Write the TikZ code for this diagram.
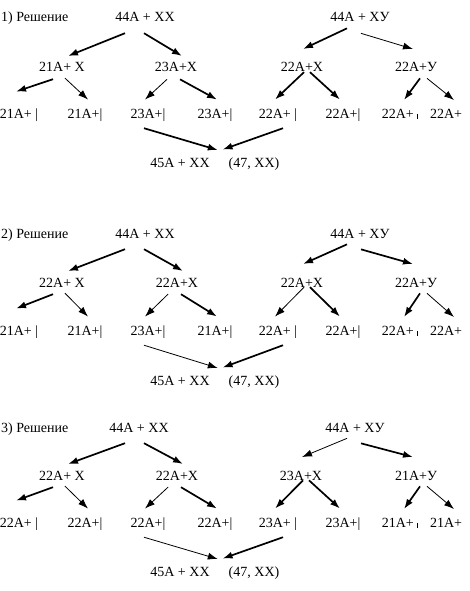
\documentclass[tikz,border=0pt]{standalone}
\usepackage{fontspec}
\setmainfont{Liberation Serif}
\usetikzlibrary{arrows.meta}

\begin{document}
\begin{tikzpicture}[x=1pt, y=-1pt,
      lbl/.style={font=\fontsize{14}{16}\selectfont, inner sep=2pt, anchor=base},
      ttl/.style={lbl, anchor=base west},
      arr/.style={line width=0.8pt, -{Latex[length=10pt,width=7pt]}},
      arrb/.style={arr, line width=1.7pt}
   ]
      \useasboundingbox (0,0) rectangle (469,591);

      % ---------- 1) ----------
      \node (s1ttl) [ttl]  at (-1,22)  {1) Решение};
      \node (s1t)   [lbl]  at (145,22) {44A + XX};
      \node (s1u)   [lbl]  at (360,22) {44A + XУ};
      \node (s1m1)  [lbl]  at (62,72)  {21A+ X};
      \node (s1m2)  [lbl]  at (176,72) {23A+X};
      \node (s1m3)  [lbl]  at (302,72) {22A+X};
      \node (s1m4)  [lbl]  at (416,72) {22A+У};
      \node (s1b1)  [lbl]  at (19,118)  {21A+ |};
      \node (s1b2)  [lbl]  at (85,118)  {21A+|};
      \node (s1b3)  [lbl]  at (148,118) {23A+|};
      \node (s1b4)  [lbl]  at (215,118) {23A+|};
      \node (s1b5)  [lbl]  at (278,118) {22A+ |};
      \node (s1b6)  [lbl]  at (343,118) {22A+|};
      \node (s1b7)  [lbl]  at (400,118) {22A+ \rule[-0.5pt]{0.8pt}{5pt}};
      \node (s1b8)  [lbl]  at (446,118) {22A+};
      \node (s1res) [lbl]  at (180,167) {45A + XX};
      \node (s1gen) [lbl]  at (254,167) {(47, XX)};

      \draw[arrb] ([shift={(-20pt,-9pt)}]s1t.south) -- ([shift={(6pt,4.5pt)}]s1m1.north);
      \draw[arrb] ([shift={(-1pt,-9pt)}]s1t.south)  -- ([shift={(6pt,4.5pt)}]s1m2.north);
      \draw[arrb] ([shift={(-9pt,-5pt)}]s1m1.south) -- ([shift={(-3pt,14.5pt)}]s1b1.north);
      \draw[arr]  ([shift={(3pt,-4pt)}]s1m1.south)  -- ([shift={(3pt,6.5pt)}]s1b2.north);
      \draw[arr]  ([shift={(-9pt,-5pt)}]s1m2.south) -- ([shift={(-3pt,6.5pt)}]s1b3.north);
      \draw[arrb] ([shift={(4pt,-5pt)}]s1m2.south)  -- ([shift={(2pt,6.5pt)}]s1b4.north);
      \draw[arrb] ([shift={(-13pt,-4pt)}]s1u.south) -- ([shift={(1pt,11.5pt)}]s1m3.north);
      \draw[arr]  ([shift={(1pt,-9pt)}]s1u.south)   -- ([shift={(-3pt,11.5pt)}]s1m4.north);
      \draw[arrb] ([shift={(2pt,2pt)}]s1m3.south)   -- ([shift={(-3pt,6.5pt)}]s1b5.north);
      \draw[arrb] ([shift={(8pt,2pt)}]s1m3.south)   -- ([shift={(-3pt,6.5pt)}]s1b6.north);
      \draw[arrb] ([shift={(4pt,-4pt)}]s1m4.south)  -- ([shift={(4pt,6.5pt)}]s1b7.north);
      \draw[arr]  ([shift={(11pt,-4pt)}]s1m4.south) -- ([shift={(8pt,6.5pt)}]s1b8.north);
      \draw[arrb] ([shift={(-4pt,-5pt)}]s1b3.south) -- ([shift={(6pt,5.5pt)}]s1res.north east);
      \draw[arrb] ([shift={(5pt,-5pt)}]s1b5.south)  -- ([shift={(-4pt,5.5pt)}]s1gen.north west);

      % ---------- 2) ----------
      \node (s2ttl) [ttl]  at (-1,238)  {2) Решение};
      \node (s2t)   [lbl]  at (145,238) {44A + XX};
      \node (s2u)   [lbl]  at (360,238) {44A + XУ};
      \node (s2m1)  [lbl]  at (62,287)  {22A+ X};
      \node (s2m2)  [lbl]  at (177,287) {22A+X};
      \node (s2m3)  [lbl]  at (302,287) {22A+X};
      \node (s2m4)  [lbl]  at (416,287) {22A+У};
      \node (s2b1)  [lbl]  at (19,335)  {21A+ |};
      \node (s2b2)  [lbl]  at (85,335)  {21A+|};
      \node (s2b3)  [lbl]  at (148,335) {23A+|};
      \node (s2b4)  [lbl]  at (215,335) {21A+|};
      \node (s2b5)  [lbl]  at (278,335) {22A+ |};
      \node (s2b6)  [lbl]  at (343,335) {22A+|};
      \node (s2b7)  [lbl]  at (400,335) {22A+ \rule[-0.5pt]{0.8pt}{5pt}};
      \node (s2b8)  [lbl]  at (446,335) {22A+};
      \node (s2res) [lbl]  at (180,385) {45A + XX};
      \node (s2gen) [lbl]  at (254,385) {(47, XX)};

      \draw[arrb] ([shift={(-20pt,-9pt)}]s2t.south) -- ([shift={(6pt,4.5pt)}]s2m1.north);
      \draw[arrb] ([shift={(-1pt,-9pt)}]s2t.south)  -- ([shift={(6pt,4.5pt)}]s2m2.north);
      \draw[arrb] ([shift={(-9pt,-5pt)}]s2m1.south) -- ([shift={(-3pt,14.5pt)}]s2b1.north);
      \draw[arr]  ([shift={(3pt,-4pt)}]s2m1.south)  -- ([shift={(3pt,6.5pt)}]s2b2.north);
      \draw[arr]  ([shift={(-9pt,-5pt)}]s2m2.south) -- ([shift={(-3pt,6.5pt)}]s2b3.north);
      \draw[arrb] ([shift={(4pt,-5pt)}]s2m2.south)  -- ([shift={(2pt,6.5pt)}]s2b4.north);
      \draw[arrb] ([shift={(-13pt,-4pt)}]s2u.south) -- ([shift={(1pt,11.5pt)}]s2m3.north);
      \draw[arrb] ([shift={(1pt,-9pt)}]s2u.south)   -- ([shift={(-3pt,11.5pt)}]s2m4.north);
      \draw[arr]  ([shift={(2pt,2pt)}]s2m3.south)   -- ([shift={(-3pt,6.5pt)}]s2b5.north);
      \draw[arrb] ([shift={(8pt,2pt)}]s2m3.south)   -- ([shift={(-3pt,6.5pt)}]s2b6.north);
      \draw[arrb] ([shift={(4pt,-4pt)}]s2m4.south)  -- ([shift={(4pt,6.5pt)}]s2b7.north);
      \draw[arr]  ([shift={(11pt,-4pt)}]s2m4.south) -- ([shift={(8pt,6.5pt)}]s2b8.north);
      \draw[arr]  ([shift={(-4pt,-5pt)}]s2b3.south) -- ([shift={(6pt,5.5pt)}]s2res.north east);
      \draw[arrb] ([shift={(5pt,-5pt)}]s2b5.south)  -- ([shift={(-4pt,5.5pt)}]s2gen.north west);

      % ---------- 3) ----------
      \node (s3ttl) [ttl]  at (-1,432)  {3) Решение};
      \node (s3t)   [lbl]  at (139,432) {44A + XX};
      \node (s3u)   [lbl]  at (355,432) {44A + XУ};
      \node (s3m1)  [lbl]  at (62,480)  {22A+ X};
      \node (s3m2)  [lbl]  at (177,480) {22A+X};
      \node (s3m3)  [lbl]  at (301,480) {23A+X};
      \node (s3m4)  [lbl]  at (416,480) {21A+У};
      \node (s3b1)  [lbl]  at (19,527)  {22A+ |};
      \node (s3b2)  [lbl]  at (85,527)  {22A+|};
      \node (s3b3)  [lbl]  at (148,527) {22A+|};
      \node (s3b4)  [lbl]  at (215,527) {22A+|};
      \node (s3b5)  [lbl]  at (278,527) {23A+ |};
      \node (s3b6)  [lbl]  at (343,527) {23A+|};
      \node (s3b7)  [lbl]  at (400,527) {21A+ \rule[-0.5pt]{0.8pt}{5pt}};
      \node (s3b8)  [lbl]  at (446,527) {21A+};
      \node (s3res) [lbl]  at (180,576) {45A + XX};
      \node (s3gen) [lbl]  at (254,576) {(47, XX)};

      \draw[arrb] ([shift={(-14pt,-9pt)}]s3t.south) -- ([shift={(6pt,4.5pt)}]s3m1.north);
      \draw[arrb] ([shift={(5pt,-9pt)}]s3t.south)   -- ([shift={(6pt,4.5pt)}]s3m2.north);
      \draw[arrb] ([shift={(-9pt,-5pt)}]s3m1.south) -- ([shift={(-3pt,14.5pt)}]s3b1.north);
      \draw[arr]  ([shift={(3pt,-4pt)}]s3m1.south)  -- ([shift={(3pt,6.5pt)}]s3b2.north);
      \draw[arr]  ([shift={(-9pt,-5pt)}]s3m2.south) -- ([shift={(-3pt,6.5pt)}]s3b3.north);
      \draw[arrb] ([shift={(4pt,-5pt)}]s3m2.south)  -- ([shift={(2pt,6.5pt)}]s3b4.north);
      \draw[arr]  ([shift={(-8pt,-4pt)}]s3u.south)  -- ([shift={(1pt,11.5pt)}]s3m3.north);
      \draw[arrb] ([shift={(6pt,-9pt)}]s3u.south)   -- ([shift={(-3pt,11.5pt)}]s3m4.north);
      \draw[arrb] ([shift={(2pt,2pt)}]s3m3.south)   -- ([shift={(-3pt,6.5pt)}]s3b5.north);
      \draw[arrb] ([shift={(8pt,2pt)}]s3m3.south)   -- ([shift={(-3pt,6.5pt)}]s3b6.north);
      \draw[arrb] ([shift={(4pt,-4pt)}]s3m4.south)  -- ([shift={(4pt,6.5pt)}]s3b7.north);
      \draw[arr]  ([shift={(11pt,-4pt)}]s3m4.south) -- ([shift={(8pt,6.5pt)}]s3b8.north);
      \draw[arr]  ([shift={(-4pt,-5pt)}]s3b3.south) -- ([shift={(6pt,5.5pt)}]s3res.north east);
      \draw[arrb] ([shift={(5pt,-5pt)}]s3b5.south)  -- ([shift={(-4pt,5.5pt)}]s3gen.north west);
   \end{tikzpicture}
\end{document}
